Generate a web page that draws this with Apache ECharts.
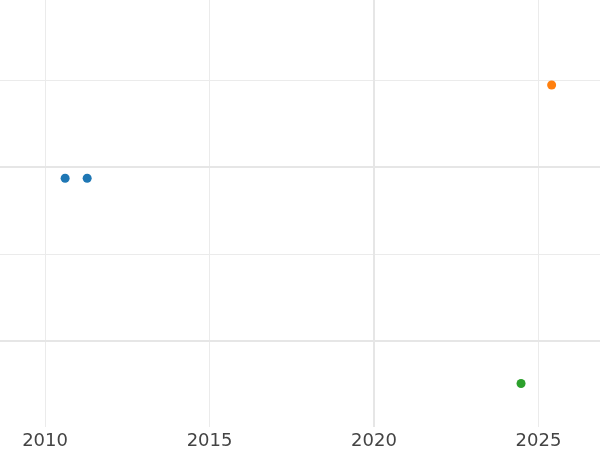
<!DOCTYPE html>
<html><head><meta charset="utf-8">
<script src="https://cdn.jsdelivr.net/npm/echarts@6/dist/echarts.min.js"></script>
<style>html,body{margin:0;padding:0;background:#fff}#c{width:600px;height:450px}</style>
</head><body><div id="c"></div>
<script>
const xTicks = [2010, 2015, 2020, 2025];
const blueX = [2010.61, 2011.28];
const blueY = [0.936, 0.936];
const orangeX = [2025.40];
const orangeY = [1.474];
const greenX = [2024.47];
const greenY = [-0.249];
const minorY = [0.5, 1.5];
const majorY = [0, 1];
const minorX = [2010, 2015, 2025];
const majorX = [2020];

const zip = (xs, ys) => xs.map((x, i) => [x, ys[i]]);
const chart = echarts.init(document.getElementById('c'), null, {renderer: 'canvas'});
const mk = (name, color, data) => ({
  name, type: 'scatter', data, symbolSize: 9, itemStyle: {color, opacity: 1}, z: 5
});
const gridLines = (xs, ys, color, width) => ({
  type: 'line', data: [], silent: true, z: 1,
  markLine: {
    silent: true, symbol: ['none', 'none'], label: {show: false}, animation: false,
    lineStyle: {color, width, type: 'solid'},
    emphasis: {disabled: true},
    data: ys.map(v => ({yAxis: v})).concat(xs.map(v => ({xAxis: v})))
  }
});
chart.setOption({
  animation: false,
  backgroundColor: '#fff',
  grid: {left: 0, right: 0, top: 0, bottom: 23, containLabel: false},
  xAxis: {
    type: 'value', min: 2008.63, max: 2026.87,
    axisLine: {show: false}, axisTick: {show: false},
    axisLabel: {
      color: '#444', fontFamily: 'DejaVu Sans', fontSize: 18, margin: 5,
      customValues: xTicks, formatter: v => String(v)
    },
    splitLine: {show: false}
  },
  yAxis: {
    type: 'value', min: -0.5, max: 1.965,
    axisLine: {show: false}, axisTick: {show: false}, axisLabel: {show: false},
    splitLine: {show: false}
  },
  series: [
    gridLines(minorX, minorY, '#ebebeb', 1),
    gridLines(majorX, majorY, '#e6e6e6', 2),
    mk('A', '#1f77b4', zip(blueX, blueY)),
    mk('B', '#ff7f0e', zip(orangeX, orangeY)),
    mk('C', '#2ca02c', zip(greenX, greenY))
  ]
});
</script></body></html>
